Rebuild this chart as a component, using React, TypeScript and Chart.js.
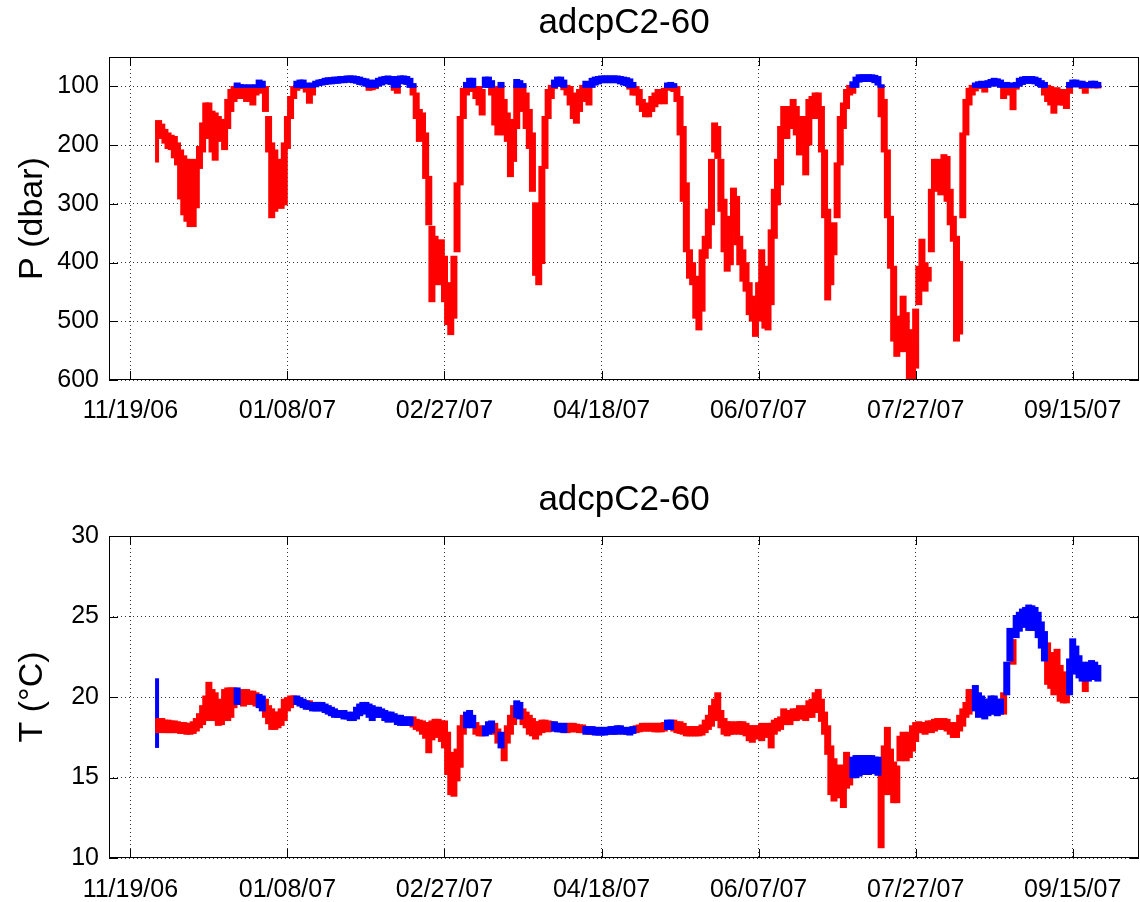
import React, { useEffect, useRef } from "react";
import { Chart, registerables } from "chart.js";

Chart.register(...registerables);

// ---------- text ----------
const TITLE = "adcpC2-60";
const P_LABEL = "P (dbar)";
const T_LABEL = "T (\u00B0C)";

// ---------- x axis (days since 11/19/06) ----------
const X_TICK_DAYS = [0, 50, 100, 150, 200, 250, 300];
const X_TICK_LABELS = ["11/19/06", "01/08/07", "02/27/07", "04/18/07", "06/07/07", "07/27/07", "09/15/07"];
const X_MIN = -6.8;
const X_MAX = 321.1;

// ---------- y axes ----------
const P_TICKS = [100, 200, 300, 400, 500, 600];
const P_MIN = 50;
const P_MAX = 600;
const T_TICKS = [10, 15, 20, 25, 30];
const T_MIN = 10;
const T_MAX = 30;

// colour split: shallower than 100 dbar is blue
const SHALLOW_P = 100;
const T_BLUE_MAX_P = 97;

// ---------- daily samples, first one on day 9 (11/28/06) ----------
const FIRST_DAY = 9;

// pressure: shallowest and deepest reading of each day (dbar)
const P_LO = [
  160, 166, 175, 181, 185, 187, 198, 210, 220, 226,
  226, 228, 226, 204, 164, 130, 130, 144, 147, 153,
  158, 164, 124, 107, 102, 96, 99, 99, 102, 99,
  102, 99, 91, 93, 102, 153, 198, 210, 226, 243,
  198, 153, 119, 102, 93, 91, 91, 96, 102, 96,
  93, 91, 90, 88, 87, 87, 86, 86, 85, 85,
  84, 84, 84, 85, 86, 88, 89, 91, 92, 91,
  88, 86, 85, 84, 85, 86, 85, 84, 84, 85,
  88, 97, 113, 141, 147, 181, 255, 340, 357, 380,
  363, 391, 436, 470, 391, 266, 153, 105, 95, 88,
  88, 102, 102, 107, 86, 86, 92, 102, 113, 95,
  124, 147, 170, 158, 90, 92, 97, 113, 141, 181,
  300, 351, 238, 153, 107, 100, 91, 86, 86, 91,
  100, 102, 113, 124, 107, 100, 93, 100, 88, 86,
  85, 84, 84, 84, 84, 84, 84, 85, 86, 87,
  89, 95, 102, 107, 124, 130, 133, 119, 113, 107,
  107, 105, 96, 95, 97, 102, 119, 170, 266, 380,
  402, 425, 465, 380, 357, 311, 226, 164, 170, 226,
  294, 340, 323, 275, 289, 357, 380, 402, 436, 459,
  470, 436, 380, 408, 436, 346, 277, 226, 170, 136,
  141, 136, 124, 136, 170, 153, 181, 124, 119, 113,
  113, 136, 210, 311, 357, 334, 232, 153, 130, 107,
  100, 94, 86, 82, 82, 82, 82, 82, 83, 85,
  99, 124, 210, 323, 408, 527, 493, 459, 487, 516,
  538, 481, 408, 362, 402, 410, 277, 226, 226, 243,
  218, 221, 277, 323, 357, 400, 181, 124, 105, 100,
  96, 94, 93, 95, 92, 90, 88, 89, 91, 99,
  95, 96, 102, 95, 88, 86, 85, 85, 85, 86,
  88, 92, 95, 100, 102, 107, 104, 107, 107, 113,
  95, 91, 91, 93, 93, 97, 95, 93, 93, 95,
];
const P_HI = [
  178, 187, 195, 204, 206, 220, 232, 290, 317, 328,
  337, 337, 305, 238, 210, 175, 187, 210, 224, 187,
  192, 206, 170, 141, 124, 119, 119, 116, 124, 119,
  130, 113, 108, 110, 141, 210, 322, 311, 305, 306,
  300, 204, 153, 119, 105, 102, 102, 108, 127, 113,
  99, 97, 96, 95, 94, 94, 93, 93, 92, 92,
  91, 91, 92, 93, 95, 96, 98, 105, 104, 102,
  98, 96, 94, 93, 95, 105, 110, 94, 93, 95,
  100, 113, 153, 192, 187, 255, 334, 465, 436, 425,
  436, 465, 504, 521, 493, 380, 266, 153, 113, 107,
  100, 119, 130, 147, 100, 100, 113, 164, 181, 164,
  181, 192, 252, 226, 170, 113, 141, 170, 204, 277,
  420, 436, 400, 238, 153, 119, 102, 98, 98, 104,
  113, 130, 153, 161, 141, 124, 118, 130, 100, 96,
  94, 92, 92, 92, 92, 92, 92, 94, 96, 97,
  103, 113, 113, 130, 141, 150, 150, 141, 133, 128,
  124, 128, 102, 105, 107, 124, 181, 294, 380, 425,
  436, 493, 513, 481, 391, 374, 334, 210, 221, 311,
  380, 413, 402, 345, 368, 402, 430, 447, 487, 498,
  524, 498, 470, 510, 513, 470, 357, 300, 266, 187,
  187, 170, 164, 181, 215, 192, 249, 198, 153, 153,
  153, 210, 322, 462, 436, 385, 322, 232, 170, 136,
  113, 110, 100, 91, 90, 90, 90, 90, 92, 96,
  150, 210, 322, 408, 532, 558, 550, 527, 550, 600,
  600, 578, 470, 436, 447, 430, 380, 277, 266, 283,
  277, 294, 334, 362, 532, 520, 322, 181, 130, 113,
  106, 100, 102, 108, 100, 98, 96, 98, 100, 119,
  102, 113, 138, 103, 98, 95, 93, 93, 93, 94,
  97, 100, 113, 124, 130, 144, 124, 130, 130, 136,
  110, 99, 99, 99, 102, 110, 101, 99, 101, 101,
];

// temperature: lowest and highest reading of each day (deg C)
const T_LO = [
  17.85, 17.9, 17.85, 17.85, 17.85, 17.85, 17.85, 17.8, 17.8, 17.75,
  17.75, 17.8, 17.95, 18.15, 18.35, 18.6, 18.8, 18.6, 18.6, 18.3,
  18.35, 18.8, 18.6, 18.8, 19.4, 19.6, 19.6, 19.5, 19.6, 19.7,
  19.6, 19.5, 19.4, 19.2, 18.8, 18.4, 18.05, 18.05, 18.15, 18.3,
  18.6, 19.2, 19.4, 19.6, 19.6, 19.5, 19.4, 19.3, 19.3, 19.2,
  19.2, 19.2, 19.2, 19.1, 19.0, 18.9, 18.8, 18.8, 18.8, 18.7,
  18.7, 18.6, 18.6, 18.7, 18.9, 19.0, 19.1, 18.8, 18.6, 18.8,
  18.8, 18.8, 18.6, 18.5, 18.6, 18.5, 18.35, 18.3, 18.3, 18.3,
  18.3, 18.2, 18.05, 17.95, 17.75, 17.5, 16.6, 17.4, 17.75, 17.55,
  17.3, 16.9, 15.25, 14.0, 13.9, 14.85, 15.7, 17.75, 18.15, 18.4,
  18.15, 17.75, 17.65, 17.65, 17.65, 17.75, 17.85, 17.75, 17.2, 16.9,
  16.1, 17.2, 17.75, 18.35, 18.8, 18.7, 18.35, 18.15, 17.75, 17.65,
  17.45, 17.7, 17.85, 17.95, 17.9, 17.95, 17.95, 17.9, 17.9, 17.85,
  17.85, 17.9, 17.9, 17.9, 17.85, 17.85, 17.75, 17.75, 17.75, 17.7,
  17.7, 17.7, 17.7, 17.75, 17.75, 17.75, 17.75, 17.8, 17.75, 17.75,
  17.7, 17.8, 17.85, 17.9, 17.95, 17.95, 17.95, 17.95, 17.9, 17.9,
  17.9, 17.95, 18.05, 18.05, 17.95, 17.85, 17.8, 17.75, 17.65, 17.65,
  17.65, 17.65, 17.65, 17.7, 17.85, 18.05, 18.25, 18.6, 18.8, 18.15,
  17.75, 17.65, 17.75, 17.75, 17.8, 17.75, 17.75, 17.65, 17.35, 17.25,
  17.55, 17.45, 17.35, 17.55, 17.75, 16.9, 17.75, 17.95, 18.05, 18.35,
  18.35, 18.35, 18.6, 18.6, 18.7, 18.7, 18.6, 18.8, 18.8, 19.1,
  19.2, 18.55, 17.75, 16.5, 14.0, 13.6, 14.0, 13.8, 13.2, 14.4,
  14.6, 15.05, 15.05, 15.15, 15.25, 15.35, 15.25, 15.35, 15.3, 15.2,
  10.7, 14.0, 15.25, 14.0, 13.5, 13.5, 16.1, 16.3, 16.1, 16.3,
  16.7, 17.3, 17.85, 17.85, 17.75, 17.95, 17.85, 17.95, 18.15, 18.05,
  18.05, 17.95, 17.75, 17.55, 17.55, 17.95, 18.25, 18.8, 19.0, 19.4,
  19.2, 18.8, 19.0, 18.7, 18.9, 19.0, 19.0, 18.9, 19.0, 19.0,
  20.2, 22.3, 22.1, 23.75, 24.15, 24.4, 24.4, 24.2, 24.2, 24.2,
  23.75, 23.1, 22.3, 20.85, 20.6, 20.2, 20.4, 19.8, 19.7, 19.7,
  20.2, 21.5, 21.5, 21.25, 21.05, 20.4, 21.05, 21.15, 21.2, 21.05,
];
const T_HI = [
  18.6, 18.6, 18.5, 18.5, 18.45, 18.45, 18.4, 18.35, 18.35, 18.3,
  18.3, 18.4, 18.6, 18.9, 19.4, 20.0, 20.85, 20.4, 20.2, 19.8,
  19.4, 20.4, 20.5, 20.5, 20.5, 20.5, 20.3, 20.4, 20.4, 20.3,
  20.3, 20.2, 20.1, 20.0, 19.8, 19.4, 19.2, 19.0, 19.0, 19.2,
  19.8, 19.9, 20.0, 20.0, 20.0, 19.9, 19.8, 19.7, 19.7, 19.6,
  19.6, 19.6, 19.6, 19.5, 19.4, 19.3, 19.2, 19.1, 19.1, 19.1,
  19.0, 18.95, 19.0, 19.3, 19.5, 19.6, 19.6, 19.5, 19.4, 19.3,
  19.3, 19.2, 19.1, 19.0, 19.0, 18.9, 18.8, 18.8, 18.7, 18.7,
  18.7, 18.7, 18.55, 18.5, 18.45, 18.35, 18.35, 18.45, 18.55, 18.55,
  18.45, 18.45, 17.75, 16.5, 16.1, 16.7, 18.15, 18.8, 19.0, 19.1,
  18.8, 18.35, 18.15, 18.05, 18.15, 18.4, 18.45, 18.3, 17.95, 17.75,
  17.55, 18.15, 18.8, 19.4, 19.7, 19.6, 19.2, 19.0, 18.8, 18.6,
  18.4, 18.4, 18.5, 18.5, 18.45, 18.4, 18.4, 18.3, 18.3, 18.3,
  18.3, 18.3, 18.3, 18.25, 18.2, 18.2, 18.1, 18.1, 18.1, 18.05,
  18.05, 18.05, 18.05, 18.05, 18.1, 18.1, 18.15, 18.15, 18.05, 18.05,
  18.05, 18.1, 18.15, 18.2, 18.3, 18.3, 18.3, 18.3, 18.3, 18.3,
  18.3, 18.35, 18.5, 18.5, 18.5, 18.4, 18.4, 18.3, 18.1, 18.1,
  18.1, 18.1, 18.1, 18.2, 18.5, 18.8, 19.4, 19.8, 20.2, 19.1,
  18.6, 18.4, 18.4, 18.3, 18.4, 18.4, 18.4, 18.3, 18.15, 18.15,
  18.15, 18.15, 18.3, 18.15, 18.3, 18.3, 18.5, 18.6, 18.7, 19.2,
  19.1, 19.0, 19.2, 19.2, 19.4, 19.3, 19.4, 19.7, 19.8, 20.2,
  20.4, 19.8, 19.0, 18.15, 16.9, 16.1, 15.7, 15.7, 15.7, 16.5,
  16.1, 16.2, 16.3, 16.3, 16.3, 16.3, 16.3, 16.3, 16.2, 16.2,
  15.3, 16.9, 18.05, 16.7, 15.9, 15.65, 17.5, 17.75, 17.65, 17.75,
  18.15, 18.35, 18.4, 18.35, 18.35, 18.45, 18.45, 18.55, 18.6, 18.55,
  18.6, 18.55, 18.35, 18.15, 18.35, 18.8, 19.2, 19.6, 20.4, 20.4,
  20.65, 20.2, 20.0, 19.8, 19.8, 20.0, 20.0, 19.8, 19.8, 20.2,
  22.1, 24.2, 23.5, 25.0, 25.2, 25.4, 25.5, 25.65, 25.6, 25.5,
  25.2, 24.6, 24.0, 23.3, 22.5, 22.7, 22.9, 21.9, 21.5, 21.2,
  22.3, 23.55, 23.1, 22.5, 22.1, 21.9, 22.1, 22.2, 22.1, 21.9,
];

// first burst of readings (day 8.5)
const START_DAY = 8.5;
const START_P = [160, 228];
const START_T = [16.9, 21.1];

// ---------- style ----------
const FONT = "'Liberation Sans', Arial, Helvetica, sans-serif";
const RED = "rgb(255,0,0)";
const BLUE = "rgb(0,0,255)";
const GRID = "rgba(0,0,0,0.8)";
const W = 1140;
const H = 451;

const framePlugin = {
  id: "matlabFrame",
  afterDraw(chart: any) {
    const { ctx, chartArea, scales } = chart;
    const { left, right, top, bottom } = chartArea;
    const L = 9;
    ctx.save();
    ctx.strokeStyle = "#000";
    ctx.lineWidth = 1;
    ctx.setLineDash([]);
    ctx.strokeRect(Math.round(left) + 0.5, Math.round(top) + 0.5, Math.round(right - left) - 1, Math.round(bottom - top) - 1);
    ctx.beginPath();
    scales.x.ticks.forEach((t: any) => {
      const px = Math.round(scales.x.getPixelForValue(t.value)) + 0.5;
      ctx.moveTo(px, bottom);
      ctx.lineTo(px, bottom - L);
      ctx.moveTo(px, top);
      ctx.lineTo(px, top + L);
    });
    scales.y.ticks.forEach((t: any) => {
      const py = Math.round(scales.y.getPixelForValue(t.value)) + 0.5;
      ctx.moveTo(left, py);
      ctx.lineTo(left + L, py);
      ctx.moveTo(right, py);
      ctx.lineTo(right - L, py);
    });
    ctx.stroke();
    ctx.restore();
  },
};

function makeConfig(o: any) {
  return {
    type: "bar",
    data: { datasets: o.datasets },
    options: {
      animation: false,
      responsive: false,
      devicePixelRatio: 1,
      layout: { padding: { left: 0, right: 1, top: 0, bottom: 0 } },
      plugins: {
        legend: { display: false },
        tooltip: { enabled: false },
        title: {
          display: true,
          text: TITLE,
          fullSize: false,
          color: "#000",
          font: { family: FONT, size: 35, weight: "normal", lineHeight: 1.2 },
          padding: { top: o.titleTop, bottom: o.titleBottom },
        },
      },
      scales: {
        x: {
          type: "linear",
          min: X_MIN,
          max: X_MAX,
          offset: false,
          grid: { offset: false, drawTicks: false, color: GRID, lineWidth: 1 },
          border: { display: false, dash: [1, 3] },
          afterBuildTicks: (s: any) => {
            s.ticks = X_TICK_DAYS.map((v) => ({ value: v }));
          },
          afterFit: (s: any) => {
            s.height = o.xAxisH;
          },
          ticks: {
            autoSkip: false,
            maxRotation: 0,
            minRotation: 0,
            padding: o.xPad,
            color: "#000",
            font: { family: FONT, size: 25 },
            callback: (v: number) => {
              const i = X_TICK_DAYS.indexOf(v);
              return i >= 0 ? X_TICK_LABELS[i] : "";
            },
          },
        },
        y: {
          type: "linear",
          min: o.yMin,
          max: o.yMax,
          reverse: o.reverse,
          grid: { drawTicks: false, color: GRID, lineWidth: 1 },
          border: { display: false, dash: [1, 3] },
          afterBuildTicks: (s: any) => {
            s.ticks = o.yTicks.map((v: number) => ({ value: v }));
          },
          afterFit: (s: any) => {
            s.width = 109;
          },
          ticks: {
            padding: 10,
            color: "#000",
            font: { family: FONT, size: 25 },
            callback: (v: number) => String(v),
          },
          title: {
            display: true,
            text: o.yTitle,
            color: "#000",
            font: { family: FONT, size: 34, lineHeight: 1.2 },
            padding: { top: 12, bottom: 0 },
          },
        },
      },
    },
    plugins: [framePlugin],
  };
}

function barSet(data: any[], color: string, thickness: number, inflate: number) {
  return {
    data,
    backgroundColor: color,
    borderWidth: 0,
    barThickness: thickness,
    inflateAmount: inflate,
    grouped: false,
  };
}

export default function App() {
  const topRef = useRef<HTMLCanvasElement>(null);
  const botRef = useRef<HTMLCanvasElement>(null);

  useEffect(() => {
    const pRed: any[] = [];
    const pBlue: any[] = [];
    const tRed: any[] = [];
    const tBlue: any[] = [];
    P_LO.forEach((lo, i) => {
      const d = FIRST_DAY + i;
      const hi = P_HI[i];
      if (hi > SHALLOW_P) pRed.push({ x: d, y: [Math.max(lo, SHALLOW_P), hi] });
      if (lo < SHALLOW_P) pBlue.push({ x: d, y: [lo, Math.min(hi, SHALLOW_P)] });
      const item = { x: d, y: [T_LO[i], T_HI[i]] };
      if (lo < T_BLUE_MAX_P) tBlue.push(item);
      else tRed.push(item);
    });

    const top = new Chart(
      topRef.current as HTMLCanvasElement,
      makeConfig({
        datasets: [
          barSet(pBlue, BLUE, 4, 1.5),
          barSet(pRed, RED, 4, 1.5),
          barSet([{ x: START_DAY, y: START_P }], RED, 2, 1),
        ],
        yMin: P_MIN,
        yMax: P_MAX,
        reverse: true,
        yTicks: P_TICKS,
        yTitle: P_LABEL,
        titleTop: 2,
        titleBottom: 13,
        xAxisH: H - 380,
        xPad: 16,
      }) as any
    );
    const bot = new Chart(
      botRef.current as HTMLCanvasElement,
      makeConfig({
        datasets: [
          barSet(tBlue, BLUE, 4, 1.5),
          barSet(tRed, RED, 4, 1.5),
          barSet([{ x: START_DAY, y: START_T }], BLUE, 2, 1),
        ],
        yMin: T_MIN,
        yMax: T_MAX,
        reverse: false,
        yTicks: T_TICKS,
        yTitle: T_LABEL,
        titleTop: 28,
        titleBottom: 15,
        xAxisH: H - 407,
        xPad: 17,
      }) as any
    );
    return () => {
      top.destroy();
      bot.destroy();
    };
  }, []);

  return (
    <div style={{ position: "absolute", left: 0, top: 0, width: W, height: 2 * H, background: "#fff" }}>
      <canvas ref={topRef} width={W} height={H} style={{ position: "absolute", left: 0, top: 0, width: W, height: H }} />
      <canvas ref={botRef} width={W} height={H} style={{ position: "absolute", left: 0, top: H, width: W, height: H }} />
    </div>
  );
}
